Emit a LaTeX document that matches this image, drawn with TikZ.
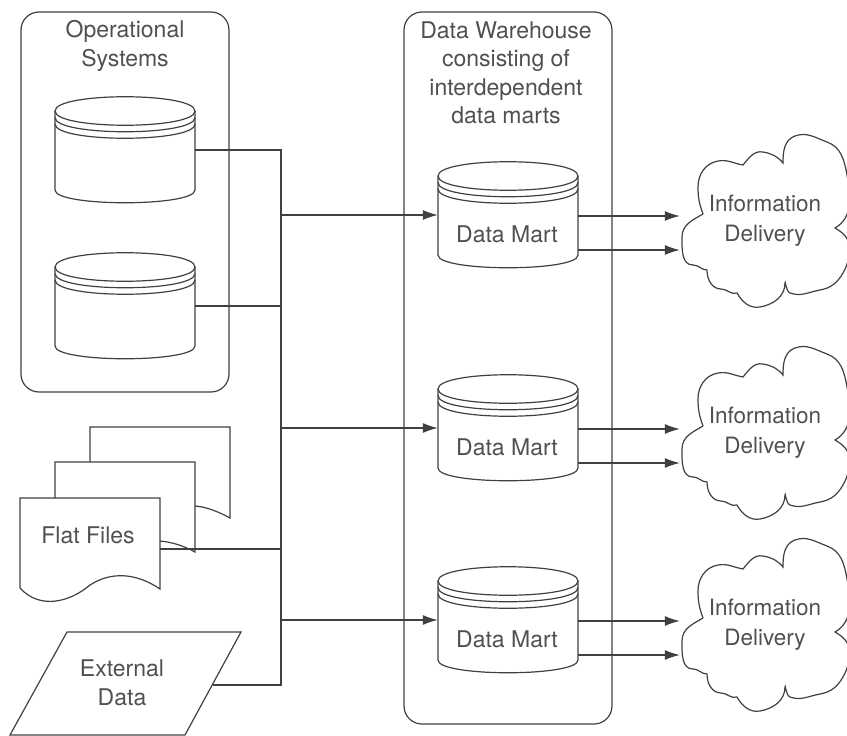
\documentclass[tikz,border=0pt]{standalone}
\usepackage{fontspec}
\setmainfont{TeX Gyre Heros}
\usetikzlibrary{positioning}
\usetikzlibrary{arrows.meta}
\definecolor{inkline}{HTML}{404040}
\definecolor{inktext}{HTML}{505050}
\tikzset{
    store/.pic={
        \draw[main] (-70,-39) .. controls (-70,-58) and (70,-58) .. (70,-39);
        \foreach \d in {0,6.5,13}{
            \draw[main] (-70,-39+\d) .. controls (-70,-20+\d) and (70,-20+\d) .. (70,-39+\d);
        }
        \draw[main] (-70,-39) -- (-70,40) .. controls (-70,57) and (70,57) .. (70,40) -- (70,-39);
        \node[inner sep=0pt, minimum width=140pt, minimum height=106pt] (-box) at (0,0) {};
        \node[lbl] (-text) at (-1,19) {#1};
    },
    cloudpic/.pic={
        \draw[main] (-62,-3) to[out=110,in=270] (-67,-30)
            to[out=90,in=190] (-47,-56) to[out=10,in=170] (-22,-52)
            to[out=50,in=170] (-2,-65) to[out=350,in=130] (18,-54)
            to[out=90,in=200] (30,-81) to[out=20,in=160] (62,-75)
            to[out=340,in=100] (82,-42) to[out=280,in=30] (70,11)
            to[out=330,in=90] (84,30) to[out=270,in=60] (78,56)
            to[out=240,in=10] (55,73) to[out=190,in=340] (25,76)
            to[out=160,in=90] (20,66) to[out=270,in=10] (-5,90)
            to[out=190,in=300] (-28,76) to[out=200,in=0] (-44,72)
            to[out=180,in=270] (-58,53) to[out=180,in=0] (-72,48)
            to[out=180,in=270] (-83,20) to[out=90,in=210] (-62,-3);
        \node[inner sep=0pt, minimum width=170pt, minimum height=172pt] (-box) at (0,0) {};
        \node[lbl, font=\fontsize{22.5}{30}\selectfont] (-text) at (0,4) {Information\\Delivery};
    }
}
\begin{document}
\begin{tikzpicture}[x=1pt, y=-1pt,
        main/.style = {draw=inkline, line width=1.2pt},
        lbl/.style = {text=inktext, align=center, inner sep=0pt, font=\fontsize{23}{28.5}\selectfont},
        flow/.style = {main, -{Latex[length=15pt,width=10pt]}}]
    \useasboundingbox (0,0) rectangle (847,736);

    % containers
    \draw[main, rounded corners=18pt] (21,12) rectangle (229,392);
    \draw[main, rounded corners=18pt] (404,12) rectangle (612,724);
    \node[lbl] (ostitle) at (125,46) {Operational\\Systems};
    \node[lbl] (dwtitle) at (506,73) {Data Warehouse\\consisting of\\interdependent\\data marts};

    % sources
    \pic (os1) at (125,150) {store={}};
    \pic (os2) at (125,306) {store={}};
    \draw[main] (90,462) -- (90,427) -- (230,427) -- (230,518) .. controls (219,512) and (207,507) .. (195,506);
    \draw[main] (55,498) -- (55,462) -- (195,462) -- (195,552) .. controls (184,546) and (172,542) .. (160,541);
    \draw[main] (20,498) -- (160,498) -- (160,589) .. controls (135,572) and (110,572) .. (90,585)
        .. controls (70,602) and (40,610) .. (20,588) -- cycle;
    \node[inner sep=0pt, minimum width=140pt, minimum height=102pt] (ff) at (90,549) {};
    \node[lbl] (fftext) at (88,535) {Flat Files};
    \draw[main] (67,632) -- (241,632) -- (185,735) -- (10,735) -- cycle;
    \node[lbl] (ext) at (122,683) {External\\Data};
    \coordinate (extout) at (213,685);

    % data marts and clouds
    \pic (dm1) at (508,215) {store={Data Mart}};
    \pic (dm2) at (508,428) {store={Data Mart}};
    \pic (dm3) at (508,620) {store={Data Mart}};
    \pic (info1) at (765,217) {cloudpic};
    \pic (info2) at (765,429) {cloudpic};
    \pic (info3) at (765,621) {cloudpic};

    % collecting line
    \coordinate (bustop) at (281,150);
    \coordinate (busbot) at (281,685);
    \draw[main] (os1-box.east) -- (bustop) -- (busbot) -- (extout);
    \draw[main] (os2-box.east) -- (os2-box.east -| bustop);
    \draw[main] (ff.east) -- (ff.east -| bustop);

    \foreach \i in {1,2,3}{
        \draw[flow] (dm\i-box.west -| bustop) -- (dm\i-box.west);
        \draw[flow] ([yshift=-1pt]dm\i-box.east) -- ([yshift=-1pt]dm\i-box.east -| info\i-box.west);
        \draw[flow] ([yshift=-35pt]dm\i-box.east) -- ([yshift=-35pt]dm\i-box.east -| info\i-box.west);
    }
\end{tikzpicture}
\end{document}
